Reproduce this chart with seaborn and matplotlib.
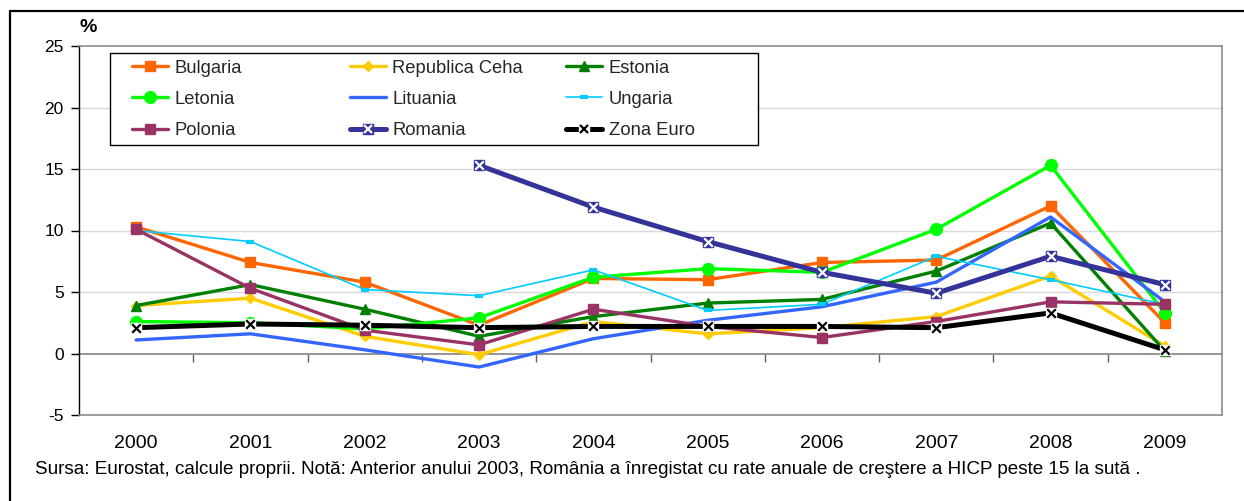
import numpy as np
import pandas as pd
import matplotlib
matplotlib.use("Agg")
import matplotlib.pyplot as plt
from matplotlib.lines import Line2D
from matplotlib.patches import Rectangle
import seaborn as sns

# Annual HICP inflation (%), 2000-2009
years = ["2000", "2001", "2002", "2003", "2004", "2005", "2006", "2007", "2008", "2009"]
bulgaria = [10.3, 7.4, 5.8, 2.3, 6.1, 6.0, 7.4, 7.6, 12.0, 2.5]
rep_ceha = [3.9, 4.5, 1.4, -0.1, 2.6, 1.6, 2.1, 3.0, 6.3, 0.6]
estonia = [3.9, 5.6, 3.6, 1.4, 3.0, 4.1, 4.4, 6.7, 10.6, 0.2]
letonia = [2.6, 2.5, 2.0, 2.9, 6.2, 6.9, 6.6, 10.1, 15.3, 3.3]
lituania = [1.1, 1.6, 0.3, -1.1, 1.2, 2.7, 3.8, 5.8, 11.1, 4.2]
ungaria = [10.0, 9.1, 5.2, 4.7, 6.8, 3.5, 4.0, 7.9, 6.0, 4.0]
polonia = [10.1, 5.3, 1.9, 0.7, 3.6, 2.2, 1.3, 2.6, 4.2, 4.0]
romania = [np.nan, np.nan, np.nan, 15.3, 11.9, 9.1, 6.6, 4.9, 7.9, 5.6]
zona_euro = [2.1, 2.4, 2.3, 2.1, 2.2, 2.2, 2.2, 2.1, 3.3, 0.3]

y_ticks = [-5, 0, 5, 10, 15, 20, 25]

sns.set_theme(style="white")
plt.rcParams["font.family"] = ["Liberation Sans", "DejaVu Sans"]

W, H = 1244, 501
fig = plt.figure(figsize=(W / 100, H / 100), dpi=100)
fig.patch.set_facecolor("white")
ax = fig.add_axes([79 / W, 1 - 415 / H, (1222 - 79) / W, (415 - 46) / H])

x = np.arange(len(years))

series = [
    # name, values, color, marker, marker size, line width, marker face
    ("Bulgaria", bulgaria, "#FF6600", "s", 6.5, 2.4, "#FF6600"),
    ("Republica Ceha", rep_ceha, "#FFCC00", "D", 5.0, 2.4, "#FFCC00"),
    ("Estonia", estonia, "#008000", "^", 7.0, 2.4, "#008000"),
    ("Letonia", letonia, "#00FF00", "o", 8.5, 2.4, "#00FF00"),
    ("Lituania", lituania, "#3366FF", None, 0, 2.4, "#3366FF"),
    ("Ungaria", ungaria, "#00CCFF", "_", 6.0, 1.2, "#00CCFF"),
    ("Polonia", polonia, "#993366", "s", 6.5, 2.4, "#993366"),
    ("Romania", romania, "#333399", "s", 7.0, 3.6, "#333399"),
    ("Zona Euro", zona_euro, "#000000", "s", 7.0, 3.6, "#FFFFFF"),
]

handles = {}
for name, vals, color, mk, ms, lw, mfc in series:
    df = pd.DataFrame({"x": x, "v": vals}).dropna()
    kw = dict(color=color, linewidth=lw, ax=ax, zorder=3)
    if mk is not None:
        mew = 3.0 if mk == "_" else 1.0
        kw.update(marker=mk, markersize=ms, markerfacecolor=mfc,
                  markeredgecolor=mfc, markeredgewidth=mew)
    sns.lineplot(data=df, x="x", y="v", **kw)
    handle = Line2D([], [], color=color, linewidth=lw,
                    marker=mk if mk else "None", markersize=ms,
                    markerfacecolor=mfc, markeredgecolor=mfc,
                    markeredgewidth=3.0 if mk == "_" else 1.0)
    if name in ("Romania", "Zona Euro"):
        xcol = "white" if name == "Romania" else "black"
        sns.scatterplot(data=df, x="x", y="v", marker="x", color=xcol,
                        s=38, linewidth=1.6, ax=ax, zorder=4)
        cross = Line2D([], [], linestyle="none", marker="x", color=xcol,
                       markersize=6, markeredgewidth=1.6)
        handle = (handle, cross)
    handles[name] = handle

# axes, grid and frame
ax.set_xlim(-0.5, len(years) - 0.5)
ax.set_ylim(-5, 25)
ax.set_yticks(y_ticks)
ax.set_yticklabels([str(t) for t in y_ticks])
ax.set_xticks(x)
ax.set_xticklabels(years)
ax.set_xlabel("")
ax.set_ylabel("")
for t in [5, 10, 15, 20]:
    ax.axhline(t, color="#D9D9D9", linewidth=1.0, zorder=1)
for side in ("top", "right", "bottom"):
    ax.spines[side].set_color("#8C8C8C")
    ax.spines[side].set_linewidth(1.2)
ax.spines["left"].set_color("black")
ax.spines["left"].set_linewidth(1.0)
ax.tick_params(axis="y", direction="out", length=6, width=1.0, color="black",
               pad=5, labelsize=12.5, labelcolor="black", left=True)
ax.tick_params(axis="x", length=0, pad=14.5, labelsize=14, labelcolor="black")

# category axis crossing at zero with tick marks between years
sec = ax.secondary_xaxis(1 / 6)
sec.set_xticks(np.arange(0.5, len(years) - 1, 1.0))
sec.set_xticklabels([])
sec.spines["bottom"].set_color("#8C8C8C")
sec.spines["bottom"].set_linewidth(1.3)
sec.tick_params(axis="x", direction="out", length=6, width=1.0, color="#606060")

# legend box with three columns
ax.add_patch(Rectangle((110 / W, 1 - 145 / H), (758 - 110) / W, (145 - 52.5) / H,
                       transform=fig.transFigure, facecolor="white",
                       edgecolor="black", linewidth=1.0, zorder=5, clip_on=False))
cols = [
    (["Bulgaria", "Letonia", "Polonia"], 131.5),
    (["Republica Ceha", "Lituania", "Romania"], 349.5),
    (["Estonia", "Ungaria", "Zona Euro"], 566),
]
for names, xpx in cols:
    leg = fig.legend([handles[n] for n in names], names, loc="center left",
                     bbox_to_anchor=(xpx / W, 1 - 99.3 / H),
                     bbox_transform=fig.transFigure, frameon=False,
                     fontsize=13.2, handlelength=1.97, handletextpad=0.35,
                     labelspacing=0.77, borderpad=0, borderaxespad=0)
    leg.set_zorder(6)

# unit label
fig.text(80 / W, 1 - 27 / H, "%", fontsize=14, fontweight="bold",
         ha="left", va="center", color="black")

# source note
fig.text(35 / W, 1 - 470 / H,
         "Sursa: Eurostat, calcule proprii. Notă: Anterior anului 2003, România a "
         "înregistat cu rate anuale de creştere a HICP peste 15 la sută .",
         fontsize=13.6, ha="left", va="center", color="black")

# outer border
fig.add_artist(Line2D([10 / W, 10 / W], [1 - 11 / H, 0], transform=fig.transFigure,
                      color="black", linewidth=1.6))
fig.add_artist(Line2D([10 / W, 1], [1 - 11 / H, 1 - 11 / H], transform=fig.transFigure,
                      color="black", linewidth=1.6))

fig.savefig("out.png", dpi=100, facecolor="white")
